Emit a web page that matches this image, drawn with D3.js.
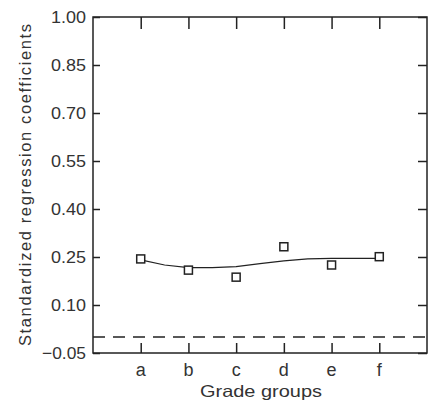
<!DOCTYPE html>
<html><head><meta charset="utf-8">
<script src="https://cdn.jsdelivr.net/npm/d3@7"></script>
<style>body{margin:0;background:#fff}svg{display:block}text{font-family:"Liberation Sans",Arial,sans-serif;fill:#333}</style>
</head><body>
<svg id="c" width="428" height="405"></svg>
<script>
const categories = ["a","b","c","d","e","f"];
const observed = [0.244, 0.209, 0.187, 0.282, 0.225, 0.251];
const fitX = [1,1.5,2,2.5,3,3.5,4,4.5,5,5.5,6];
const fitY = [0.241,0.225,0.217,0.217,0.220,0.229,0.238,0.244,0.246,0.246,0.246];
const yTicks = [-0.05,0.10,0.25,0.40,0.55,0.70,0.85,1.00];
const refLine = 0;

const svg = d3.select("#c");
const L=93,R=427,T=17,B=353;
const x = d3.scaleLinear().domain([0,7]).range([L,R]);
const y = d3.scaleLinear().domain([-0.05,1.00]).range([B,T]);
const stroke="#222";

svg.append("rect").attr("x",L).attr("y",T).attr("width",R-L).attr("height",B-T)
  .attr("fill","none").attr("stroke",stroke).attr("stroke-width",1.5);

const yAxisL = svg.append("g").attr("transform",`translate(${L},0)`)
  .call(d3.axisRight(y).tickValues(yTicks).tickSize(7).tickFormat(""));
const yAxisR = svg.append("g").attr("transform",`translate(${R},0)`)
  .call(d3.axisLeft(y).tickValues(yTicks).tickSize(9).tickFormat(""));
const xAxisB = svg.append("g").attr("transform",`translate(0,${B})`)
  .call(d3.axisTop(x).tickValues(d3.range(1,categories.length+1)).tickSize(10).tickFormat(""));
const xAxisT = svg.append("g").attr("transform",`translate(0,${T})`)
  .call(d3.axisBottom(x).tickValues(d3.range(1,categories.length+1)).tickSize(12).tickFormat(""));
[yAxisL,yAxisR,xAxisB,xAxisT].forEach(g=>{
  g.select(".domain").remove();
  g.selectAll(".tick line").attr("stroke",stroke).attr("stroke-width",1.5);
});

svg.append("g").selectAll("text").data(yTicks).join("text")
  .attr("x",86).attr("y",d=>y(d)).attr("dy","0.36em").attr("text-anchor","end")
  .attr("font-size",17).attr("textLength",d=>d<0?44:35).attr("lengthAdjust","spacingAndGlyphs")
  .text(d=>d3.format(".2f")(d));

svg.append("g").selectAll("text").data(categories).join("text")
  .attr("x",(d,i)=>x(i+1)).attr("y",376).attr("text-anchor","middle")
  .attr("font-size",18).text(d=>d);

svg.append("text").attr("x",261).attr("y",397).attr("text-anchor","middle")
  .attr("font-size",16.5).attr("textLength",122).attr("lengthAdjust","spacingAndGlyphs").text("Grade groups");
svg.append("text").attr("transform",`translate(31,${(T+B)/2}) rotate(-90)`).attr("text-anchor","middle")
  .attr("font-size",16.5).attr("textLength",322).attr("lengthAdjust","spacing")
  .text("Standardized regression coefficients");

svg.append("line").attr("x1",L).attr("x2",R).attr("y1",y(refLine)).attr("y2",y(refLine))
  .attr("stroke",stroke).attr("stroke-width",1.3).attr("stroke-dasharray","12,8");

svg.append("path").datum(fitX.map((v,i)=>[v,fitY[i]]))
  .attr("d",d3.line().x(d=>x(d[0])).y(d=>y(d[1])))
  .attr("fill","none").attr("stroke",stroke).attr("stroke-width",1.2);

svg.append("g").selectAll("rect").data(observed).join("rect")
  .attr("x",(d,i)=>x(i+1)-4).attr("y",d=>y(d)-4).attr("width",8).attr("height",8)
  .attr("fill","#fff").attr("stroke",stroke).attr("stroke-width",1.5);
</script>
</body></html>
